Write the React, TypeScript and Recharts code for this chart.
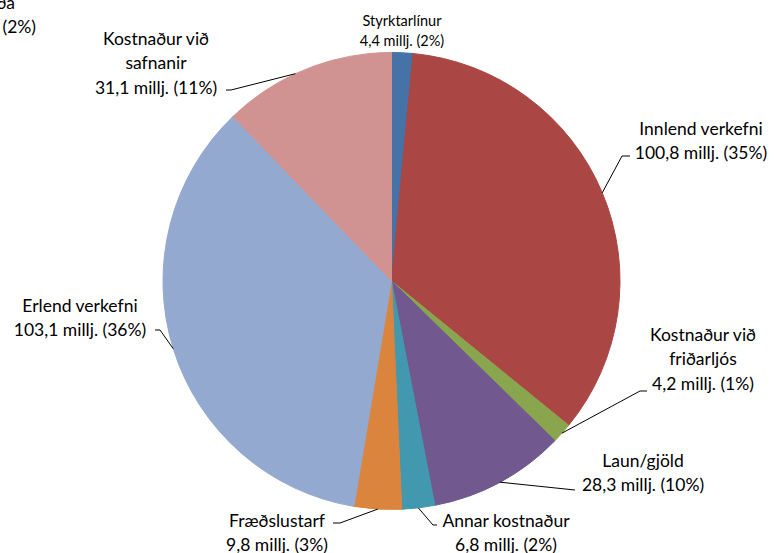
import React from "react";
import { PieChart, Pie, Cell } from "recharts";

const categories = [
  "Styrktarlínur",
  "Innlend verkefni",
  "Kostnaður við friðarljós",
  "Laun/gjöld",
  "Annar kostnaður",
  "Fræðslustarf",
  "Erlend verkefni",
  "Kostnaður við safnanir",
  "ða",
];
// last slice: its label is cut off at the image edge, value estimated from its angle
const amounts = [4.4, 100.8, 4.2, 28.3, 6.8, 9.8, 103.1, 31.1, 4.7];
const percents = [2, 35, 1, 10, 2, 3, 36, 11, 2];
const colors = [
  "#4572A7",
  "#AA4643",
  "#89A54E",
  "#71588F",
  "#4198AF",
  "#DB843D",
  "#93A9CF",
  "#D19392",
  "#D19392",
];
// how the names wrap in the data labels
const nameLines = [
  ["Styrktarlínur"],
  ["Innlend verkefni"],
  ["Kostnaður við", "friðarljós"],
  ["Laun/gjöld"],
  ["Annar kostnaður"],
  ["Fræðslustarf"],
  ["Erlend verkefni"],
  ["Kostnaður við", "safnanir"],
  ["ða"],
];

const data = categories.map((name, i) => ({ name, value: amounts[i] }));

const FONT = "Lato, 'DejaVu Sans', sans-serif";
const LINE = 24.5;
const RADIAN = Math.PI / 180;

// label placement: text x, first line y, leader points from text to elbow
const labelLayout: {
  x: number;
  y: number;
  size?: number;
  lineH?: number;
  anchor?: "middle" | "end";
  noAmount?: boolean;
  lead: number[][] | null;
}[] = [
  { x: 402, y: 20, size: 14.5, lineH: 20, lead: null },
  { x: 701, y: 128, lead: [[630, 156], [622, 156]] },
  { x: 703, y: 334, lead: [[647, 391], [640, 391]] },
  { x: 643, y: 460, lead: [[575, 490]] },
  { x: 506, y: 520, lead: [[437, 525], [433, 525]] },
  { x: 277, y: 520, lead: [[333, 523], [340, 523]] },
  { x: 80, y: 305, lead: [[155, 330], [160, 330]] },
  { x: 156, y: 38, lead: [[226, 90], [231, 90]] },
  { x: 36, y: 2, anchor: "end", noAmount: true, lead: null },
];

const fmt = (v: number) => v.toFixed(1).replace(".", ",");

function renderLabel(props: any) {
  const { cx, cy, midAngle, outerRadius, index } = props;
  const lay = labelLayout[index];
  const ex = cx + outerRadius * Math.cos(-midAngle * RADIAN);
  const ey = cy + outerRadius * Math.sin(-midAngle * RADIAN);
  const lines = lay.noAmount
    ? [...nameLines[index], `(${percents[index]}%)`]
    : [...nameLines[index], `${fmt(amounts[index])} millj. (${percents[index]}%)`];
  const lh = lay.lineH ?? LINE;
  return (
    <g key={`lbl-${index}`}>
      {lay.lead && (
        <polyline
          points={[...lay.lead, [ex, ey]].map((p) => p.join(",")).join(" ")}
          fill="none"
          stroke="#000"
          strokeWidth={1}
        />
      )}
      <text
        x={lay.x}
        y={lay.y}
        textAnchor={lay.anchor ?? "middle"}
        fontFamily={FONT}
        fontSize={lay.size ?? 17.5}
        fill="#000"
      >
        {lines.map((t, i) => (
          <tspan
            key={i}
            x={lay.anchor === "end" && i < lines.length - 1 ? lay.x - 21 : lay.x}
            y={lay.y + i * lh}
            dominantBaseline="central"
          >
            {t}
          </tspan>
        ))}
      </text>
    </g>
  );
}

export default function App() {
  return (
    <div
      style={{
        position: "absolute",
        left: 0,
        top: 0,
        width: 777,
        height: 553,
        overflow: "hidden",
        background: "#fff",
      }}
    >
      <PieChart width={777} height={553} margin={{ top: 0, right: 0, bottom: 0, left: 0 }}>
        <Pie
          data={data}
          dataKey="value"
          nameKey="name"
          cx={391.5}
          cy={281}
          outerRadius={228.5}
          startAngle={90}
          endAngle={-270}
          label={renderLabel}
          labelLine={false}
          isAnimationActive={false}
        >
          {data.map((d, i) => (
            <Cell key={d.name} fill={colors[i]} stroke={colors[i]} strokeWidth={1} />
          ))}
        </Pie>
      </PieChart>
    </div>
  );
}
